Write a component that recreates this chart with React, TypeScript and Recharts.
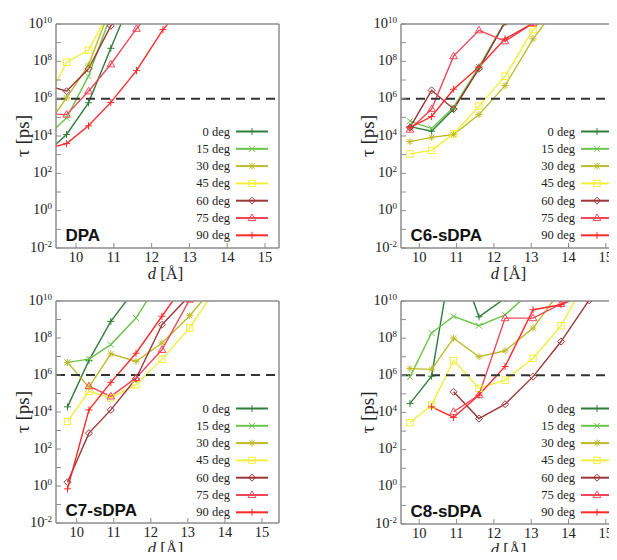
import React from 'react';
import { Line, LineChart, ReferenceLine, XAxis, YAxis } from 'recharts';

const serif = 'Liberation Serif, Times New Roman, serif';
const sans = 'Liberation Sans, Arial, sans-serif';

const angleLabels = ['0 deg', '15 deg', '30 deg', '45 deg', '60 deg', '75 deg', '90 deg'];
const angleColors = ['#2f7d3a', '#6cc44a', '#bdbb2a', '#f2ee3a', '#9c3636', '#f0475a', '#ff2a2a'];
const angleMarkers = ['plus', 'cross', 'star', 'square', 'diamond', 'triangle', 'plus'];

const xTicks = [10, 11, 12, 13, 14, 15];
const yTicks = [1e-2, 1e-1, 1, 1e1, 1e2, 1e3, 1e4, 1e5, 1e6, 1e7, 1e8, 1e9, 1e10];
const cutoffTau = 1e6;

// tau [ps] per angle (rows follow angleLabels), columns follow the d list of the panel
const dpaD = [9.15, 9.75, 10.33, 10.92, 11.6, 12.3, 13.05];
const dpaTau = [
  [9e2, 1.2e4, 6e5, 5e8, 1e12],
  [7e3, 9.3e4, 1.6e7, 3e10],
  [2.2e4, 1.1e6, 6.3e7, 8e10],
  [4e5, 9e7, 4e8, 6.3e10],
  [6e6, 2.5e6, 4e7, 8e9, 1e12],
  [1.6e5, 1.4e5, 2.5e6, 7e7, 5.6e9, 3e11],
  [2e3, 3.9e3, 3.5e4, 6.3e5, 3.2e7, 5e9, 3e11],
];

const c6D = [9.75, 10.33, 10.92, 11.6, 12.3, 13.05, 13.8];
const c6Tau = [
  [3.2e4, 1.8e4, 2.8e5, 4.5e7, 1.3e10, 3e11],
  [6.3e4, 2.5e4, 3.5e5, 5e7, 1.3e10, 3e11],
  [5e3, 8.5e3, 1.2e4, 1.4e5, 5e6, 1.6e9, 1.6e11],
  [1.1e3, 1.7e3, 1.3e4, 4e5, 1.6e7, 5e9, 2e11],
  [2.8e4, 2.8e6, 2.8e5, 4e7, 1.3e10, 3e11],
  [2.2e4, 2.8e5, 1.9e8, 4.6e9, 1.2e9, 1.1e10, 1e11],
  [2.8e4, 1.1e5, 3.2e6, 5e7, 1.6e9, 1.1e10, 1e11],
];

const c7D = [9.75, 10.33, 10.92, 11.6, 12.3, 13.05, 13.8];
const c7Tau = [
  [1.9e4, 6.2e6, 7.9e8, 5e10],
  [4.8e6, 7.2e6, 4.4e7, 1.2e9, 2e11],
  [4.8e6, 2.2e5, 1.4e7, 5.4e6, 5.4e7, 1.6e9, 1e11],
  [3.1e3, 1.3e5, 5.8e4, 3e5, 7.2e6, 3.5e8, 6.3e10],
  [1.6, 7.2e2, 1.3e4, 6.3e5, 5.2e8, 2e10],
  [null, 2.5e5, 7e4, 7e5, 2.3e7, 1.2e10, 1e11],
  [0.7, 1.3e4, 4e5, 1.5e7, 1.5e9, 2e11],
];

const c8D = [9.75, 10.33, 10.92, 11.6, 12.3, 13.05, 13.8, 14.55];
const c8Tau = [
  [3e4, 9e5, 1e13, 1.4e9, 1.4e10, 1e11],
  [8.3e5, 1.9e8, 1.5e9, 4.7e8, 1.8e9, 4e10],
  [2.3e6, 2.1e6, 1e8, 1e7, 2.1e7, 3.5e8, 4e10],
  [2.8e3, 2.5e4, 6.2e6, 2e5, 5.5e5, 8.3e6, 4.7e8, 2.5e11],
  [null, null, 1.3e5, 4.7e3, 2.8e4, 8.5e5, 6.6e7, 1.1e10],
  [null, null, 1.1e4, 8.7e4, 1.2e9, 1.2e9, 7e9, 3e10],
  [null, 2e4, 5.4e3, 8.7e4, 3e6, 3.4e9, 6.3e9, 3e10],
];

function Marker({ kind, x, y, color }: { kind: string; x: number; y: number; color: string }) {
  const s = 3.5;
  const common = { stroke: color, strokeWidth: 1, fill: 'none' };
  switch (kind) {
    case 'plus':
      return <path d={`M${x - s},${y}H${x + s}M${x},${y - s}V${y + s}`} {...common} />;
    case 'cross':
      return <path d={`M${x - 3},${y - 3}L${x + 3},${y + 3}M${x - 3},${y + 3}L${x + 3},${y - 3}`} {...common} />;
    case 'star':
      return (
        <path
          d={`M${x - s},${y}H${x + s}M${x},${y - s}V${y + s}M${x - 2.6},${y - 2.6}L${x + 2.6},${y + 2.6}M${x - 2.6},${y + 2.6}L${x + 2.6},${y - 2.6}`}
          {...common}
        />
      );
    case 'square':
      return <rect x={x - 3.2} y={y - 3.2} width={6.4} height={6.4} {...common} />;
    case 'diamond':
      return <polygon points={`${x},${y - s} ${x + s},${y} ${x},${y + s} ${x - s},${y}`} {...common} />;
    default:
      return <polygon points={`${x},${y - 4} ${x + 3.8},${y + 2.6} ${x - 3.8},${y + 2.6}`} {...common} />;
  }
}

function PowTick(props: any) {
  const { x, y, payload } = props;
  const e = Math.round(Math.log10(payload.value));
  if (e % 2 !== 0) return <g />;
  return (
    <text x={x} y={y + 3.5} textAnchor="end" style={{ fontFamily: serif }} fontSize={14.5} fill="#222">
      10
      <tspan dy={-5} fontSize={9}>
        {e}
      </tspan>
    </text>
  );
}

function DTick(props: any) {
  const { x, y, payload } = props;
  return (
    <text x={x} y={y + 10} textAnchor="middle" style={{ fontFamily: serif }} fontSize={14.5} fill="#222">
      {payload.value}
    </text>
  );
}

function toPoints(d: number[], row: (number | null)[]) {
  return d.map((x, i) => ({ d: x, tau: row[i] })).filter((p) => p.tau != null);
}

type PanelProps = {
  name: string;
  d: number[];
  tau: (number | null)[][];
  left: number;
  top: number;
  height: number;
  domain: [number, number];
  marginRight: number;
};

function Panel({ name, d, tau, left, top, height, domain, marginRight }: PanelProps) {
  const width = 300;
  const plotLeft = 56;
  const plotTop = 24;
  const plotRight = width - marginRight - 1;
  const plotBottom = height - 32;
  const frame = '#8c8c8c';
  return (
    <div style={{ position: 'absolute', left, top, width, height }}>
      <LineChart width={width} height={height} margin={{ top: plotTop - 1, right: marginRight, left: 0, bottom: 0 }}>
        <XAxis
          xAxisId="b"
          dataKey="d"
          type="number"
          domain={domain}
          allowDataOverflow
          ticks={xTicks}
          interval={0}
          height={32}
          tickSize={-5}
          tickMargin={9}
          axisLine={{ stroke: frame, strokeWidth: 1.5 }}
          tickLine={{ stroke: frame }}
          tick={DTick}
        />
        <XAxis
          xAxisId="t"
          orientation="top"
          type="number"
          domain={domain}
          allowDataOverflow
          ticks={xTicks}
          interval={0}
          height={1}
          tickSize={-5}
          axisLine={{ stroke: frame, strokeWidth: 1.5 }}
          tickLine={{ stroke: frame }}
          tick={false}
        />
        <YAxis
          yAxisId="l"
          type="number"
          scale="log"
          domain={[1e-2, 1e10]}
          allowDataOverflow
          ticks={yTicks}
          interval={0}
          width={plotLeft}
          tickSize={-5}
          tickMargin={9}
          axisLine={{ stroke: frame, strokeWidth: 1.5 }}
          tickLine={{ stroke: frame }}
          tick={PowTick}
        />
        <YAxis
          yAxisId="r"
          orientation="right"
          type="number"
          scale="log"
          domain={[1e-2, 1e10]}
          allowDataOverflow
          ticks={yTicks}
          interval={0}
          width={1}
          tickSize={-5}
          axisLine={{ stroke: frame, strokeWidth: 1.5 }}
          tickLine={{ stroke: frame }}
          tick={false}
        />
        {tau.map((row, i) => (
          <Line
            key={angleLabels[i]}
            name={angleLabels[i]}
            xAxisId="b"
            yAxisId="l"
            data={toPoints(d, row)}
            dataKey="tau"
            stroke={angleColors[i]}
            strokeWidth={1.4}
            isAnimationActive={false}
            activeDot={false}
            dot={(p: any) => (
              <g key={p.key ?? `dot-${p.index}`}>
                {p.cx != null && p.cy != null ? <Marker kind={angleMarkers[i]} x={p.cx} y={p.cy} color={angleColors[i]} /> : null}
              </g>
            )}
          />
        ))}
        <ReferenceLine xAxisId="b" yAxisId="l" y={cutoffTau} stroke="#333" strokeWidth={2} strokeDasharray="9 6" />
      </LineChart>
      <svg
        width={width}
        height={height}
        style={{ position: 'absolute', left: 0, top: 0, pointerEvents: 'none', overflow: 'visible' }}
      >
        {angleLabels.map((label, i) => {
          const y = 131.5 + i * 17.3;
          return (
            <g key={label}>
              <text x={230} y={y + 4} textAnchor="end" style={{ fontFamily: serif }} fontSize={12.5} fill="#222">
                {label}
              </text>
              <line x1={236} x2={268} y1={y} y2={y} stroke={angleColors[i]} strokeWidth={2} />
              <Marker kind={angleMarkers[i]} x={252} y={y} color={angleColors[i]} />
            </g>
          );
        })}
        <text x={65.5} y={plotBottom - 7.5} style={{ fontFamily: sans }} fontWeight="bold" fontSize={17} fill="#111">
          {name}
        </text>
        <text
          transform={`translate(${plotLeft - 33.5},${(plotTop + plotBottom) / 2}) rotate(-90)`}
          textAnchor="middle"
          style={{ fontFamily: serif }}
          fontSize={19}
          fill="#222"
          dy={6}
        >
          τ [ps]
        </text>
        <text
          x={(plotLeft + plotRight) / 2 - 2}
          y={plotBottom + 31}
          textAnchor="middle"
          style={{ fontFamily: serif }}
          fontSize={16.5}
          fill="#222"
        >
          <tspan fontStyle="italic">d</tspan> [Å]
        </text>
      </svg>
    </div>
  );
}

export default function App() {
  // the body keeps its 8px margin; the figure is shifted back to the page corner
  return (
    <div style={{ position: 'relative', width: 601, height: 544 }}>
      <div
        style={{ position: 'absolute', left: -8, top: -8, width: 617, height: 560, overflow: 'hidden', background: '#fff' }}
      >
        <Panel name="DPA" d={dpaD} tau={dpaTau} left={0} top={0} height={280} domain={[9.47, 15.37]} marginRight={20} />
        <Panel name="C6-sDPA" d={c6D} tau={c6Tau} left={345} top={0} height={280} domain={[9.51, 15.38]} marginRight={24} />
        <Panel name="C7-sDPA" d={c7D} tau={c7Tau} left={0} top={277} height={278} domain={[9.44, 15.46]} marginRight={20} />
        <Panel name="C8-sDPA" d={c8D} tau={c8Tau} left={345} top={277} height={279} domain={[9.51, 15.38]} marginRight={24} />
      </div>
    </div>
  );
}
